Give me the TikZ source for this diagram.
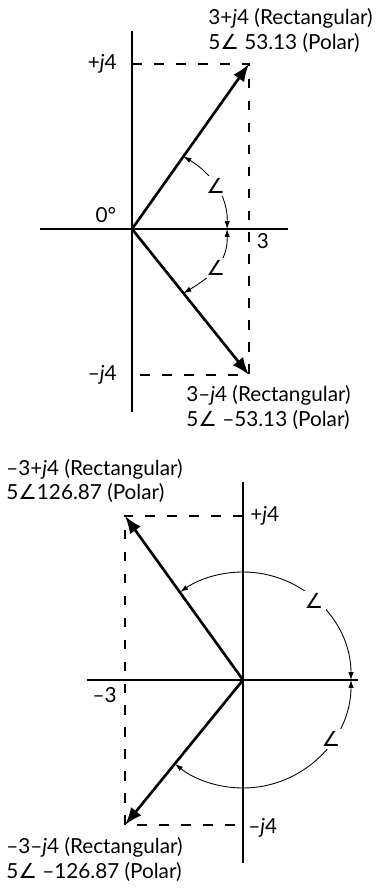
\documentclass[tikz,border=0pt]{standalone}
\usepackage{fontspec}
\setmainfont{Lato}
\newfontfamily\anglefont{DejaVu Sans}
\usetikzlibrary{arrows.meta, calc}
\newcommand{\angsym}{{\anglefont\char"2220}}

\begin{document}
\begin{tikzpicture}[x=0.02cm, y=0.02cm, >=Latex,
  axis/.style={line width=1.1pt},
  vec/.style={line width=1.5pt, -{Latex[length=10pt,width=7.5pt]}},
  guide/.style={line width=0.9pt, dash pattern=on 5.5pt off 7pt},
  sweep/.style={line width=0.5pt, {Latex[length=4.5pt,width=3pt]}-{Latex[length=4.5pt,width=3pt]}},
  lbl/.style={font=\fontsize{11.8}{14.2}\selectfont, inner sep=0pt},
  angmark/.style={fill=white, inner sep=1.5pt, font=\fontsize{11.8}{13}\selectfont}]
  \useasboundingbox (0,0) rectangle (376,888);
  % upper diagram: 3+j4 and 3-j4
  \coordinate (O1) at (132,659);
  \coordinate (A) at (249,824);
  \coordinate (B) at (249,513);
  \coordinate (y1top) at (132,857);
  \coordinate (y1bot) at (132,476);
  \coordinate (x1left) at (40,659);
  \coordinate (x1right) at (288,659);
  \draw[axis] (y1top) -- (y1bot);
  \draw[axis] (x1left) -- (x1right);
  \draw[guide] (A -| O1) -- (A) -- (B) -- (B -| O1);
  \draw[vec] (O1) -- (A);
  \draw[vec] (O1) -- (B);
  \node[lbl, anchor=east] (pj1) at (117,824) {+\textit{j}4};
  \node[lbl] (zero) at (106,673) {0°};
  \node[lbl] (three) at (263,647) {3};
  \node[lbl, anchor=east] (mj1) at (117,513) {–\textit{j}4};
  \node[lbl, anchor=west, align=left] (ptA) at (208,857.5) {3+\textit{j}4 (Rectangular)\\5\angsym\ 53.13 (Polar)};
  \node[lbl, anchor=west, align=left] (ptB) at (186,480.5) {3–\textit{j}4 (Rectangular)\\5\angsym\ –53.13 (Polar)};
  \coordinate (a1) at ($(O1)+(95,0)$);
  \coordinate (v1) at ($(O1)!0.44!(A)$);
  \coordinate (v2) at ($(O1)!0.44!(B)$);
  \draw[sweep] (a1) .. controls +(1,34) and +(26.5,-16) .. node[angmark] (ang1) {\angsym} (v1);
  \draw[sweep] (a1) .. controls +(1,-34) and +(26.5,16) .. node[angmark] (ang2) {\angsym} (v2);

  % lower diagram: -3+j4 and -3-j4
  \coordinate (O2) at (243,208);
  \coordinate (C) at (125,372);
  \coordinate (D) at (125,63);
  \coordinate (y2top) at (243,406);
  \coordinate (y2bot) at (243,25);
  \coordinate (x2left) at (87,208);
  \coordinate (x2right) at (358,208);
  \draw[axis] (y2top) -- (y2bot);
  \draw[axis] (x2left) -- (x2right);
  \draw[guide] (C -| O2) -- (C) -- (D) -- (D -| O2);
  \draw[vec] (O2) -- (C);
  \draw[vec] (O2) -- (D);
  \node[lbl, anchor=west] (pj2) at (250,372) {+\textit{j}4};
  \node[lbl, anchor=east] (m3) at (117,193) {–3};
  \node[lbl, anchor=west] (mj2) at (248,60) {–\textit{j}4};
  \node[lbl, anchor=west, align=left] (ptC) at (6,407) {–3+\textit{j}4 (Rectangular)\\5\angsym126.87 (Polar)};
  \node[lbl, anchor=west, align=left] (ptD) at (6,28.5) {–3–\textit{j}4 (Rectangular)\\5\angsym\ –126.87 (Polar)};
  \draw[sweep] ($(O2)+(0:108)$) arc[start angle=0, end angle=125.5, radius=108];
  \draw[sweep] ($(O2)+(0:108)$) arc[start angle=0, end angle=-129, radius=108];
  \node[angmark] (ang3) at ($(O2)+(48:106)$) {\angsym};
  \node[angmark] (ang4) at ($(O2)+(-34:106)$) {\angsym};
\end{tikzpicture}
\end{document}
